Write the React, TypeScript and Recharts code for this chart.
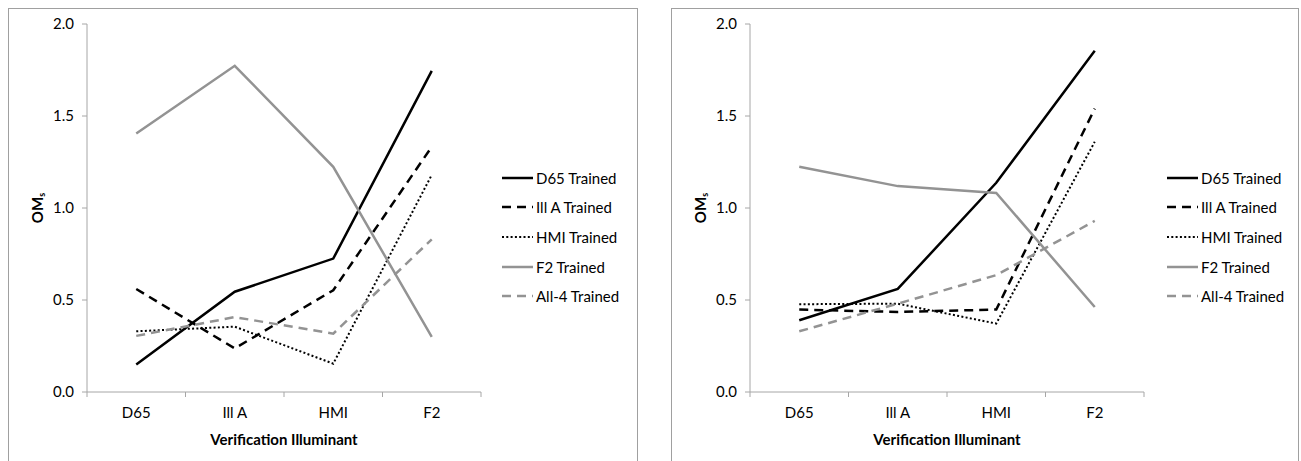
import { LineChart, Line, XAxis, YAxis, Legend } from 'recharts';

const illuminants = ['D65', 'Ill A', 'HMI', 'F2'];
const seriesNames = ['D65 Trained', 'Ill A Trained', 'HMI Trained', 'F2 Trained', 'All-4 Trained'];
const yTicks = [0, 0.5, 1, 1.5, 2];

// left panel
const leftD65 = [0.15, 0.545, 0.725, 1.745];
const leftIllA = [0.56, 0.237, 0.553, 1.333];
const leftHMI = [0.33, 0.355, 0.154, 1.18];
const leftF2 = [1.405, 1.773, 1.224, 0.3];
const leftAll4 = [0.305, 0.407, 0.317, 0.83];

// right panel
const rightD65 = [0.39, 0.56, 1.137, 1.855];
const rightIllA = [0.448, 0.435, 0.448, 1.54];
const rightHMI = [0.477, 0.48, 0.372, 1.36];
const rightF2 = [1.224, 1.119, 1.082, 0.462];
const rightAll4 = [0.33, 0.48, 0.635, 0.93];

const FONT = 'Lato, "Open Sans", sans-serif';
const AXIS = '#a6a6a6';
const GRAY = '#939393';

const seriesStyle = [
  { stroke: '#000', width: 2.5, dash: undefined },
  { stroke: '#000', width: 2.5, dash: '9 6' },
  { stroke: '#000', width: 2, dash: '2 2.3' },
  { stroke: GRAY, width: 2.5, dash: undefined },
  { stroke: GRAY, width: 2.5, dash: '9 6' },
];

// category slots: boundaries at whole numbers, labels at the middle of each slot
const xTicks: number[] = [];
for (let i = 0; i <= illuminants.length; i++) {
  xTicks.push(i);
  if (i < illuminants.length) xTicks.push(i + 0.5);
}

function buildData(values: number[][]) {
  return illuminants.map((name, i) => {
    const row: Record<string, string | number> = { illuminant: name, pos: i + 0.5 };
    seriesNames.forEach((s, k) => {
      row[s] = values[k][i];
    });
    return row;
  });
}

const leftData = buildData([leftD65, leftIllA, leftHMI, leftF2, leftAll4]);
const rightData = buildData([rightD65, rightIllA, rightHMI, rightF2, rightAll4]);

function XTick({ x, y, payload }: any) {
  const v = payload.value;
  if (Number.isInteger(v)) {
    return <line x1={x} y1={y} x2={x} y2={y + 5} stroke={AXIS} />;
  }
  return (
    <text x={x} y={y + 26} textAnchor="middle" fontFamily={FONT} fontSize={15} fill="#000">
      {illuminants[Math.floor(v)]}
    </text>
  );
}

function YTitle({ viewBox }: any) {
  const cx = viewBox.x;
  const cy = viewBox.y + viewBox.height / 2;
  return (
    <text
      transform={`translate(${cx},${cy}) rotate(-90)`}
      textAnchor="middle"
      dominantBaseline="central"
      fontFamily={FONT}
      fontWeight="bold"
      fontSize={15}
      fill="#000"
    >
      OM<tspan fontSize={9} dy={4}>s</tspan>
    </text>
  );
}

function XTitle({ viewBox }: any) {
  return (
    <text
      x={viewBox.x + viewBox.width / 2}
      y={viewBox.y + 53}
      textAnchor="middle"
      fontFamily={FONT}
      fontWeight="bold"
      fontSize={15}
      fill="#000"
    >
      Verification Illuminant
    </text>
  );
}

function LegendBox() {
  return (
    <div style={{ fontFamily: FONT, fontSize: 15, color: '#000' }}>
      {seriesNames.map((name, i) => {
        const st = seriesStyle[i];
        return (
          <div key={name} style={{ display: 'flex', alignItems: 'center', height: 29.6, whiteSpace: 'nowrap' }}>
            <svg width={32} height={10} style={{ marginRight: 2 }}>
              <line x1={0} y1={5} x2={31} y2={5} stroke={st.stroke} strokeWidth={st.width} strokeDasharray={st.dash} />
            </svg>
            <span>{name}</span>
          </div>
        );
      })}
    </div>
  );
}

function Panel({ data, left, width, marginLeft, marginRight, legendLeft }: any) {
  return (
    <div style={{ position: 'absolute', left, top: 0 }}>
      <LineChart
        width={width}
        height={461}
        data={data}
        margin={{ top: 24, right: marginRight, bottom: 9, left: marginLeft }}
      >
        <XAxis
          type="number"
          dataKey="pos"
          domain={[0, illuminants.length]}
          ticks={xTicks}
          interval={0}
          allowDataOverflow
          tick={<XTick />}
          tickLine={false}
          tickSize={0}
          tickMargin={0}
          height={60}
          axisLine={{ stroke: AXIS }}
          label={<XTitle />}
        />
        <YAxis
          domain={[0, 2]}
          ticks={yTicks}
          tickFormatter={(v: number) => v.toFixed(1)}
          width={50}
          tickSize={5}
          tickMargin={8}
          axisLine={{ stroke: AXIS }}
          tickLine={{ stroke: AXIS }}
          tick={{ fill: '#000', fontSize: 15, fontFamily: FONT }}
          label={<YTitle />}
        />
        <Legend
          layout="vertical"
          align="center"
          verticalAlign="middle"
          content={() => <LegendBox />}
          wrapperStyle={{ left: legendLeft, top: 163, width: 140 }}
        />
        {seriesNames.map((name, i) => (
          <Line
            key={name}
            type="linear"
            dataKey={name}
            stroke={seriesStyle[i].stroke}
            strokeWidth={seriesStyle[i].width}
            strokeDasharray={seriesStyle[i].dash}
            dot={false}
            activeDot={false}
            isAnimationActive={false}
          />
        ))}
      </LineChart>
    </div>
  );
}

export default function App() {
  return (
    <div style={{ position: 'fixed', left: 0, top: 0, width: 1301, height: 461, overflow: 'hidden', background: '#fff' }}>
      <div style={{ position: 'absolute', left: 8, top: 8, width: 630, height: 470, border: '1px solid #a0a0a0', boxSizing: 'border-box' }} />
      <div style={{ position: 'absolute', left: 671, top: 8, width: 628, height: 470, border: '1px solid #a0a0a0', boxSizing: 'border-box' }} />
      <Panel data={leftData} left={0} width={650} marginLeft={37} marginRight={169} legendLeft={502} />
      <Panel data={rightData} left={650} width={651} marginLeft={50} marginRight={157} legendLeft={517} />
    </div>
  );
}
